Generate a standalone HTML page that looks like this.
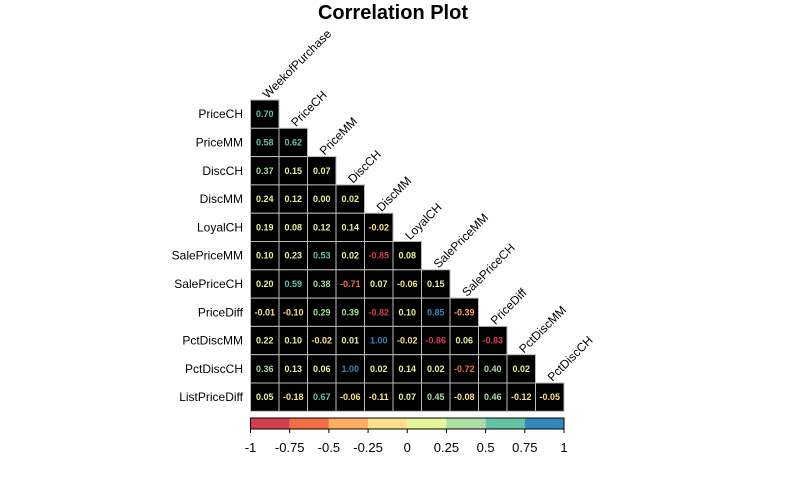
<!DOCTYPE html>
<html><head><meta charset="utf-8">
<style>
html,body{margin:0;padding:0;background:#fff;}
svg{display:block;font-family:"Liberation Sans",Arial,sans-serif;}
</style></head>
<body>
<svg id="chart" width="787" height="486" viewBox="0 0 787 486">
<text x="393" y="19" text-anchor="middle" font-size="20" font-weight="bold">Correlation Plot</text>
<g id="cells"></g>
<g id="labels"></g>
<g id="legend"></g>
</svg>
<script>
const colNames = ["WeekofPurchase","PriceCH","PriceMM","DiscCH","DiscMM","LoyalCH","SalePriceMM","SalePriceCH","PriceDiff","PctDiscMM","PctDiscCH"];
const rowNames = ["PriceCH","PriceMM","DiscCH","DiscMM","LoyalCH","SalePriceMM","SalePriceCH","PriceDiff","PctDiscMM","PctDiscCH","ListPriceDiff"];
const corrRows = [
 [0.70],
 [0.58,0.62],
 [0.37,0.15,0.07],
 [0.24,0.12,0.00,0.02],
 [0.19,0.08,0.12,0.14,-0.02],
 [0.10,0.23,0.53,0.02,-0.85,0.08],
 [0.20,0.59,0.38,-0.71,0.07,-0.06,0.15],
 [-0.01,-0.10,0.29,0.39,-0.82,0.10,0.85,-0.39],
 [0.22,0.10,-0.02,0.01,1.00,-0.02,-0.86,0.06,-0.83],
 [0.36,0.13,0.06,1.00,0.02,0.14,0.02,-0.72,0.40,0.02],
 [0.05,-0.18,0.67,-0.06,-0.11,0.07,0.45,-0.08,0.46,-0.12,-0.05]
];
const palette = ["#D53E4F","#F46D43","#FDAE61","#FEE08B","#E6F598","#ABDDA4","#66C2A5","#3288BD"];
const legendTicks = ["-1","-0.75","-0.5","-0.25","0","0.25","0.5","0.75","1"];

const NS="http://www.w3.org/2000/svg";
const x0=250.5, y0=100, cw=28.5, ch=28.3;
const xPos=j=>x0+j*cw, yPos=i=>y0+i*ch;
function colorOf(v){let k=Math.floor((v+1)/0.25);if(k>7)k=7;if(k<0)k=0;return palette[k];}
function mk(tag,attrs,parent){const e=document.createElementNS(NS,tag);for(const k in attrs)e.setAttribute(k,attrs[k]);parent.appendChild(e);return e;}
const cells=document.getElementById('cells'), labels=document.getElementById('labels'), legend=document.getElementById('legend');

corrRows.forEach((row,i)=>{
  row.forEach((v,j)=>{
    const r=mk('rect',{x:xPos(j),y:yPos(i),width:cw,height:ch,fill:'#000',stroke:'#bbb','stroke-width':1},cells);
    
    
    const t=mk('text',{x:xPos(j)+cw/2,y:yPos(i)+ch/2+3,'text-anchor':'middle','font-size':9,'font-weight':'bold',fill:colorOf(v)},cells);
    t.textContent=v.toFixed(2);
    
    
  });
});
rowNames.forEach((n,i)=>{
  const t=mk('text',{x:243,y:yPos(i)+ch/2+4,'text-anchor':'end','font-size':12},labels);
  t.textContent=n;
  
  
});
colNames.forEach((n,j)=>{
  const x=xPos(j)+17, y=yPos(j)-1;
  const t=mk('text',{x:x,y:y,'font-size':12,transform:'rotate(-45 '+x+' '+y+')'},labels);
  t.textContent=n;
  
  
});
const lx0=250.5, lx1=564, lw=(lx1-lx0)/8;
palette.forEach((c,k)=>{
  const r=mk('rect',{x:lx0+k*lw,y:418,width:lw,height:11,fill:c},legend);
  
  
});
const box=mk('rect',{x:lx0,y:418,width:lx1-lx0,height:11,fill:'none',stroke:'#000','stroke-width':1},legend);


legendTicks.forEach((lab,k)=>{
  const x=lx0+k*(lx1-lx0)/8;
  const l=mk('line',{x1:x,x2:x,y1:429,y2:433,stroke:'#000'},legend);
  
  
  const t=mk('text',{x:x,y:452,'text-anchor':'middle','font-size':13},legend);
  t.textContent=lab;
  
  
});
</script>
</body></html>
